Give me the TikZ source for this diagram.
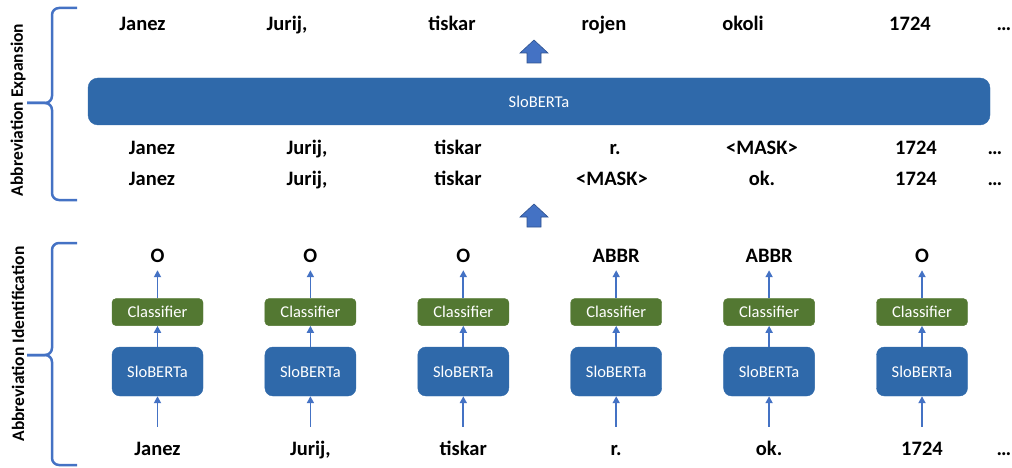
\documentclass[tikz,border=0pt]{standalone}
\usepackage{fontspec}
\setmainfont{Carlito}
\usepackage{tikz}
\usetikzlibrary{positioning, arrows.meta}
\definecolor{bertblue}{RGB}{47,105,170}
\definecolor{clsgreen}{RGB}{83,120,50}
\definecolor{flowblue}{RGB}{68,114,196}
\definecolor{flowdark}{RGB}{47,82,143}
\tikzset{%
  word/.style={font=\bfseries\fontsize{20.5}{24}\selectfont, inner sep=0pt,
    text height=15pt, text depth=4pt, anchor=base}, % the tokens
  bert/.style={draw=bertblue, fill=bertblue, rounded corners=8pt, text=white,
    minimum width=91pt, minimum height=49pt, font=\fontsize{16.5}{20}\selectfont},
  cls/.style={draw=clsgreen, fill=clsgreen, rounded corners=4pt, text=white,
    minimum width=91pt, minimum height=27pt, font=\fontsize{16.5}{20}\selectfont},
  bigbert/.style={bert, rounded corners=10pt, minimum width=902pt, minimum height=47pt},
  flow/.style={draw=flowblue, line width=1.7pt, -{Triangle[length=7pt,width=7pt]}},
  blockarrow/.style={draw=flowdark, fill=flowblue, line width=0.6pt, line join=miter},
  brace/.style={draw=flowblue, line width=2.5pt, rounded corners=7pt},
  sidelabel/.style={font=\bfseries\fontsize{17.5}{20}\selectfont, rotate=90}
}

\begin{document}
\begin{tikzpicture}[x=1pt, y=-1pt]
    \useasboundingbox (0,0) rectangle (1012,468);

    % abbreviation expansion
    \foreach \x/\w in {142.5/Janez, 287/{Jurij,}, 452/tiskar, 604/rojen, 743/okoli, 910/1724, 1004/…}
        \node[word] at (\x,31) {\w};
    \coordinate (up1) at (534,63);
    \draw[blockarrow] (up1) ++(-7,0) -- ++(0,-10) -- ++(-7,0) -- ++(14,-13)
        -- ++(14,13) -- ++(-7,0) -- ++(0,10) -- cycle;
    \node[bigbert] (expander) at (539,101.5) {SloBERTa};
    \foreach \x/\w in {152/Janez, 307/{Jurij,}, 458/tiskar, 615/r., 762/<MASK>, 916/1724, 995/…}
        \node[word] at (\x,155) {\w};
    \foreach \x/\w in {152/Janez, 307/{Jurij,}, 458/tiskar, 612/<MASK>, 762/ok., 916/1724, 995/…}
        \node[word] at (\x,185) {\w};

    \coordinate (up2) at (534,227);
    \draw[blockarrow] (up2) ++(-7,0) -- ++(0,-10) -- ++(-7,0) -- ++(14,-13)
        -- ++(14,13) -- ++(-7,0) -- ++(0,10) -- cycle;

    % abbreviation identification
    \foreach \i/\x/\w/\t in {1/157.5/Janez/O, 2/310.4/{Jurij,}/O, 3/463.3/tiskar/O,
                             4/616.2/r./ABBR, 5/769.1/ok./ABBR, 6/922/1724/O} {
        \node[bert] (bert\i) at (\x,371.5) {SloBERTa};
        \node[cls, above=21pt of bert\i] (cls\i) {Classifier};
        \node[word] (in\i) at (\x,455) {\w};
        \node[word] (tag\i) at (\x,262) {\t};
        \draw[flow, shorten <=13pt] (in\i) -- (bert\i);
        \draw[flow] (bert\i) -- (cls\i);
        \draw[flow, shorten >=4pt] (cls\i) -- (tag\i);
    }
    \node[word] (inmore) at (1004,455) {…};

    % braces with their labels
    \draw[brace] (77,8) -- (52,8) -- (52,103) -- (27,103);
    \draw[brace] (27,103) -- (52,103) -- (52,200) -- (77,200);
    \node[sidelabel] (expansion) at (18,110) {Abbreviation Expansion};
    \draw[brace] (77,243) -- (52,243) -- (52,355) -- (27,355);
    \draw[brace] (27,355) -- (52,355) -- (52,465) -- (77,465);
    \node[sidelabel] (identification) at (18,344) {Abbreviation Identification};
\end{tikzpicture}
\end{document}
